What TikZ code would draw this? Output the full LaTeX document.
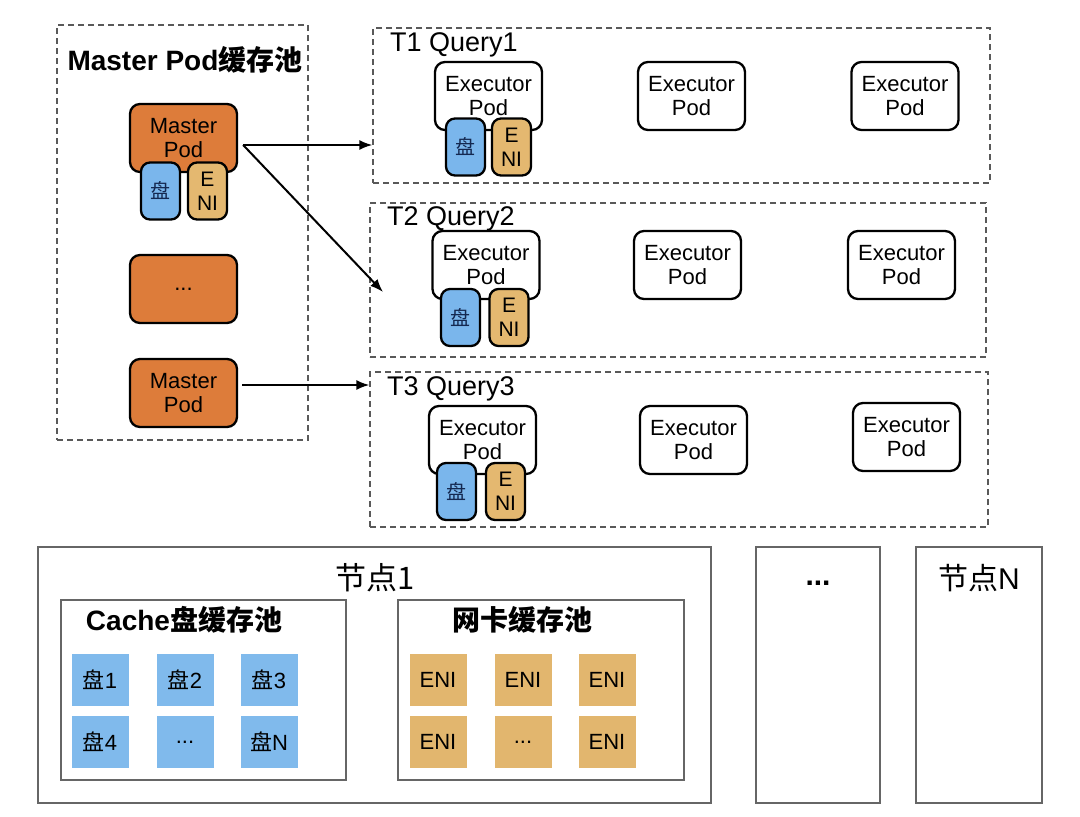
\documentclass[tikz,border=0pt]{standalone}
\usepackage{fontspec}
\setmainfont{Liberation Sans}
\newfontfamily\cjk{Noto Sans CJK SC}
\usetikzlibrary{arrows.meta}
\definecolor{orangec}{RGB}{221,124,58}
\definecolor{diskc}{RGB}{122,182,236}
\definecolor{enic}{RGB}{228,184,112}
\definecolor{tileblue}{RGB}{128,186,236}
\definecolor{tileeni}{RGB}{226,182,110}
\definecolor{diskink}{RGB}{20,40,80}
\newcommand{\fsz}[2]{\fontsize{#1}{#2}\selectfont}
\begin{document}
\begin{tikzpicture}[x=1pt,y=-1pt,
  pool/.style={draw=black!65, dash pattern=on 6pt off 4pt, line width=1.2pt, inner sep=0pt},
  frame/.style={draw=black!60, line width=1.4pt, inner sep=0pt},
  pod/.style={draw=black, line width=2.3pt, rounded corners=10pt, minimum width=107pt, minimum height=68pt, inner sep=0pt, align=center, font=\fsz{22}{24}},
  master/.style={pod, fill=orangec},
  exec/.style={pod, fill=white},
  disk/.style={draw=black, line width=2.3pt, rounded corners=9pt, minimum width=39pt, minimum height=57pt, inner sep=0pt, fill=diskc, text=diskink, font=\cjk\fsz{20}{24}},
  eni/.style={draw=black, line width=2.3pt, rounded corners=9pt, minimum width=39pt, minimum height=57pt, inner sep=0pt, fill=enic, align=center, font=\fsz{21}{24}},
  tile/.style={minimum width=57pt, minimum height=52pt, inner sep=0pt, font=\fsz{22}{24}},
  btile/.style={tile, fill=tileblue},
  etile/.style={tile, fill=tileeni},
  arr/.style={-{Latex[length=13pt,width=10pt]}, line width=2pt},
  title/.style={font=\fsz{27}{30}, inner sep=0pt}
]
\useasboundingbox (0,0) rectangle (1080,817);
\fill[white] (0,0) rectangle (1080,817);

% pools
\node[pool, minimum width=251pt, minimum height=415pt] (mp) at (182.5,232.5) {};
\node[pool, minimum width=617pt, minimum height=155pt] (t1) at (681.5,105.5) {};
\node[pool, minimum width=616pt, minimum height=154pt] (t2) at (678,280) {};
\node[pool, minimum width=618pt, minimum height=155pt] (t3) at (679,449.5) {};

\node[inner sep=0pt, font=\bfseries\fsz{28}{30}] (mpt) at (185,60) {Master Pod{\cjk 缓存池}};
\node[title, anchor=west] (t1t) at (390,45) {T1 Query1};
\node[title, anchor=west] (t2t) at (387,219) {T2 Query2};
\node[title, anchor=west] (t3t) at (387,389) {T3 Query3};

% master pods
\node[master] (m1) at (183.5,138) {Master\\Pod};
\node[disk] (m1d) at (160.5,191) {盘};
\node[eni] (m1e) at (207.5,191) {E\\NI};
\node[master] (m2) at (183.5,289) {...};
\node[master] (m3) at (183.5,393) {Master\\Pod};

% T1
\node[exec] (e11) at (488.5,96) {Executor\\Pod};
\node[exec] (e12) at (691.5,96) {Executor\\Pod};
\node[exec] (e13) at (905,96) {Executor\\Pod};
\node[disk] (d1) at (465.5,147) {盘};
\node[eni] (n1) at (511.5,147) {E\\NI};
% T2
\node[exec] (e21) at (486,265) {Executor\\Pod};
\node[exec] (e22) at (687.5,265) {Executor\\Pod};
\node[exec] (e23) at (901.5,265) {Executor\\Pod};
\node[disk] (d2) at (460.5,317.5) {盘};
\node[eni] (n2) at (509,317.5) {E\\NI};
% T3
\node[exec] (e31) at (482.5,440) {Executor\\Pod};
\node[exec] (e32) at (693.5,440) {Executor\\Pod};
\node[exec] (e33) at (906.5,437) {Executor\\Pod};
\node[disk] (d3) at (456.5,491.5) {盘};
\node[eni] (n3) at (505.5,491.5) {E\\NI};

% arrows
\coordinate (s1) at ([xshift=5pt,yshift=-7pt]m1.east);
\coordinate (s3) at ([xshift=4pt,yshift=8pt]m3.east);
\coordinate (e2) at (383,292);
\draw[arr] (s1) -- (s1 -| t1.west);
\draw[arr] (s1) -- (e2);
\draw[arr] (s3) -- (s3 -| t3.west);

% bottom
\node[frame, minimum width=673pt, minimum height=256pt] (nd1) at (374.5,675) {};
\node[frame, minimum width=285pt, minimum height=180pt] (cp) at (203.5,690) {};
\node[frame, minimum width=286pt, minimum height=180pt] (np) at (541,690) {};
\node[frame, minimum width=124pt, minimum height=256pt] (ndd) at (818,675) {};
\node[frame, minimum width=126pt, minimum height=256pt] (ndn) at (979,675) {};

\node[inner sep=0pt, font=\cjk\fsz{31}{32}] (nd1t) at (375,578) {节点1};
\node[inner sep=0pt, font=\bfseries\fsz{28}{30}] (cpt) at (184,620) {Cache{\cjk 盘缓存池}};
\node[inner sep=0pt, font=\cjk\bfseries\fsz{28}{30}] (npt) at (522,620) {网卡缓存池};
\node[inner sep=0pt, font=\bfseries\fsz{30}{30}] (nddt) at (818,583) {...};
\node[inner sep=0pt, font=\fsz{30}{32}] (ndnt) at (979,578) {{\cjk 节点}N};

\node[btile] (b1) at (100,680) {{\cjk 盘}1};
\node[btile] (b2) at (185,680) {{\cjk 盘}2};
\node[btile] (b3) at (269,680) {{\cjk 盘}3};
\node[btile] (b4) at (100,742) {{\cjk 盘}4};
\node[btile] (b5) at (185,742) {...};
\node[btile] (b6) at (269,742) {{\cjk 盘}N};

\node[etile] (g1) at (438,680) {ENI};
\node[etile] (g2) at (523,680) {ENI};
\node[etile] (g3) at (607,680) {ENI};
\node[etile] (g4) at (438,742) {ENI};
\node[etile] (g5) at (523,742) {...};
\node[etile] (g6) at (607,742) {ENI};
\end{tikzpicture}
\end{document}
